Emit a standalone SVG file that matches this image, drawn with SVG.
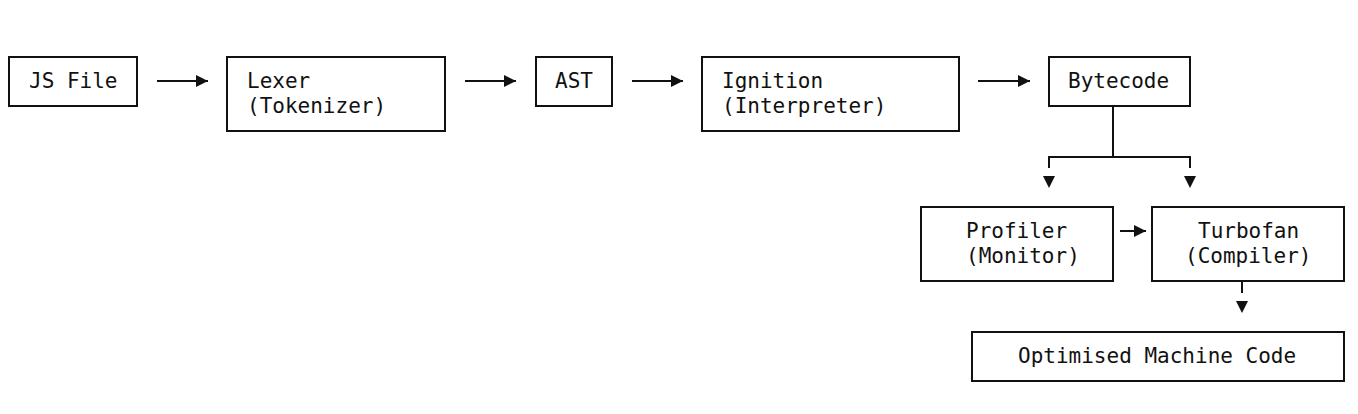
<svg xmlns="http://www.w3.org/2000/svg" width="1358" height="414" viewBox="0 0 1358 414">
<defs>
<style>
.box{fill:#fff;stroke:#111;stroke-width:2}
.t{font-family:"DejaVu Sans Mono","Liberation Mono",monospace;font-size:21px;fill:#111}
.c{fill:none;stroke:#111;stroke-width:2}
.h{fill:#111}
</style>
<marker id="ar" viewBox="0 0 12 12" refX="12" refY="6" markerWidth="12" markerHeight="12" markerUnits="userSpaceOnUse" orient="auto">
<path d="M0,0 L12,6 L0,12 Z" class="h"/>
</marker>
</defs>
<rect width="1358" height="414" fill="#fff"/>
<g id="connectors">
<line class="c" x1="157" y1="81" x2="208" y2="81" marker-end="url(#ar)"/>
<line class="c" x1="465" y1="81" x2="516" y2="81" marker-end="url(#ar)"/>
<line class="c" x1="632" y1="81" x2="683" y2="81" marker-end="url(#ar)"/>
<line class="c" x1="978" y1="81" x2="1030" y2="81" marker-end="url(#ar)"/>
<path class="c" d="M1113,106 V157 M1049,168 V157 H1190 V168"/>
<path class="h" d="M1043,176 L1055,176 L1049,188 Z"/>
<path class="h" d="M1184,176 L1196,176 L1190,188 Z"/>
<line class="c" x1="1120" y1="231" x2="1146" y2="231" marker-end="url(#ar)"/>
<line class="c" x1="1242" y1="281" x2="1242" y2="293"/>
<path class="h" d="M1236,301 L1248,301 L1242,313 Z"/>
</g>
<g id="js-file"><rect class="box" x="9" y="57" width="128" height="49"/><text class="t" x="29" y="88">JS File</text></g>
<g id="lexer"><rect class="box" x="227" y="57" width="218" height="74"/><text class="t" x="247" y="88">Lexer</text><text class="t" x="247" y="113">(Tokenizer)</text></g>
<g id="ast"><rect class="box" x="536" y="57" width="76" height="49"/><text class="t" x="555" y="88">AST</text></g>
<g id="ignition"><rect class="box" x="702" y="57" width="257" height="74"/><text class="t" x="722" y="88">Ignition</text><text class="t" x="722" y="113">(Interpreter)</text></g>
<g id="bytecode"><rect class="box" x="1049" y="57" width="141" height="49"/><text class="t" x="1068" y="88">Bytecode</text></g>
<g id="profiler"><rect class="box" x="921" y="207" width="192" height="74"/><text class="t" x="966" y="238">Profiler</text><text class="t" x="966" y="263">(Monitor)</text></g>
<g id="turbofan"><rect class="box" x="1152" y="207" width="192" height="74"/><text class="t" x="1198" y="238">Turbofan</text><text class="t" x="1185" y="263">(Compiler)</text></g>
<g id="optimised"><rect class="box" x="972" y="332" width="372" height="49"/><text class="t" x="1018" y="363">Optimised Machine Code</text></g>
</svg>
